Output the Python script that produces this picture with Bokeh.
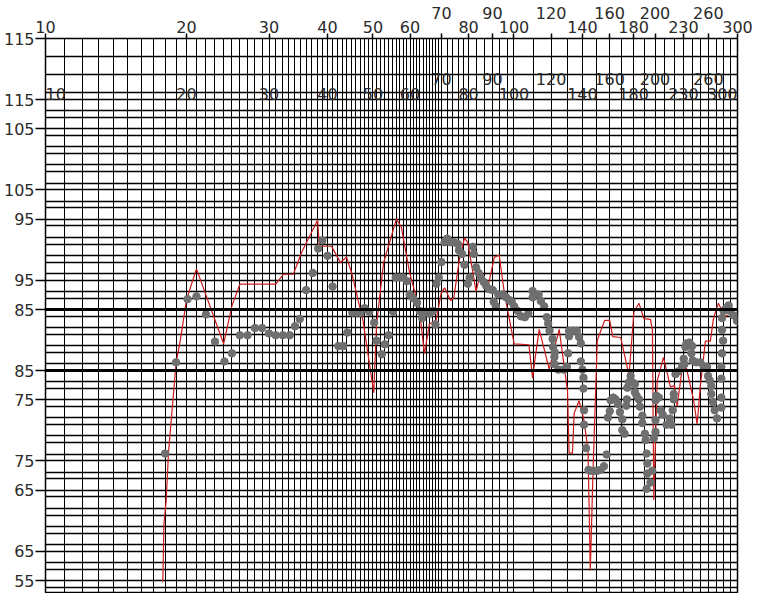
from bokeh.plotting import figure
from bokeh.models import Range1d, FixedTicker, Grid, Span, Label
from bokeh.embed import file_html
from bokeh.resources import INLINE

# ---------------- data ----------------
# tick labels (frequency axis, staggered in two rows) and level axis
x_labels_low = [10, 20, 30, 40, 50, 60, 80, 100, 140, 180, 230, 300]
x_labels_high = [70, 90, 120, 160, 200, 260]
y_labels = [115, 105, 95, 85, 75, 65, 55]
grid_x = (list(range(10, 70)) + list(range(70, 80, 2))
          + [80 + 10 * i / 3 for i in range(6)] + list(range(100, 301, 10)))
grid_y = list(range(55, 116, 2))
ref_level = 85

# red response curve (chart A)
red_f = [17.8, 17.9, 18.1, 18.3, 19.0, 19.4, 20.0, 21.0, 24.0, 25.0,
         26.0, 31.0, 32.2, 33.8, 35.2, 38.1, 38.4, 40.8, 42.6, 43.9,
         45.0, 47.6, 50.2, 50.9, 52.7, 56.1, 57.5, 59.9, 61.9, 63.1,
         64.4, 66.0, 68.2, 69.9, 71.1, 73.2, 74.4, 76.5, 78.4, 79.7,
         83.0, 85.1, 87.9, 90.8, 93.0, 95.4, 97.7, 100.1, 107.6, 109.6,
         110.8, 113.2, 118.9, 124.9, 130.1, 131.1, 133.3, 134.4, 137.7, 141.1,
         143.9, 145.5, 147.5, 150.6, 156.2, 160.1, 162.4, 169.0, 176.0, 180.3,
         184.8, 189.3, 195.6, 197.5, 198.8, 202.2, 208.5, 215.8, 220.1, 223.0,
         228.5, 233.4, 241.9, 246.0, 250.0, 256.2, 262.5, 266.8, 273.1, 277.8,
         281.2, 286.3]
red_v = [54.8, 61.3, 63.9, 69.1, 79.1, 81.6, 86.1, 89.5, 81.2, 85.4,
         87.8, 87.8, 88.9, 88.9, 91.3, 94.9, 92.0, 92.0, 90.2, 90.8,
         89.1, 83.8, 75.8, 83.4, 90.2, 95.0, 94.1, 89.0, 86.3, 84.1,
         80.1, 83.4, 83.8, 86.8, 87.4, 86.0, 86.3, 90.6, 92.9, 92.4,
         87.0, 89.3, 87.4, 90.8, 91.0, 86.8, 84.0, 81.2, 81.1, 77.4,
         79.4, 82.8, 78.4, 82.8, 76.0, 69.1, 69.1, 73.5, 74.9, 72.7,
         69.4, 56.1, 67.2, 81.6, 83.8, 83.8, 82.0, 81.9, 77.7, 84.7,
         85.7, 84.0, 83.9, 82.7, 63.9, 77.1, 79.7, 76.4, 76.6, 74.3,
         78.4, 78.5, 74.9, 72.3, 76.6, 81.5, 81.5, 84.1, 85.7, 84.9,
         84.2, 84.4]

# grey measured points (chart B)
dot_f = [18.0, 19.0, 20.1, 21.0, 22.0, 23.0, 24.1, 25.0, 26.0, 27.0,
         28.0, 29.0, 30.0, 31.0, 32.1, 33.2, 34.1, 34.9, 36.0, 37.2,
         38.2, 39.0, 40.0, 41.0, 42.2, 43.2, 44.1, 45.2, 46.1, 47.0,
         48.0, 49.1, 50.3, 50.9, 52.2, 53.0, 54.0, 55.2, 55.9, 57.0,
         58.0, 59.1, 59.9, 60.9, 62.1, 62.9, 63.7, 64.8, 66.0, 67.1,
         68.0, 68.3, 69.1, 70.0, 71.1, 72.0, 73.2, 74.6, 75.9, 76.3,
         77.5, 78.4, 79.7, 80.4, 81.7, 82.1, 83.0, 84.0, 85.1, 86.2,
         87.2, 88.6, 90.1, 90.5, 91.5, 92.6, 94.6, 96.2, 97.7, 98.9,
         100.1, 101.8, 103.5, 105.5, 107.3, 109.6, 109.6, 112.9, 114.1, 116.0,
         117.5, 118.3, 119.1, 120.9, 121.2, 122.2, 122.0, 122.0, 124.3, 127.6,
         129.7, 130.5, 131.1, 131.1, 134.0, 136.2, 137.7, 138.9, 138.9, 140.0,
         140.7, 140.7, 141.1, 141.1, 142.5, 144.2, 145.8, 148.2, 150.7, 153.1,
         155.6, 157.7, 158.7, 160.1, 160.9, 163.0, 164.8, 166.7, 168.3, 170.3,
         170.3, 172.2, 173.7, 174.2, 174.6, 176.0, 177.4, 178.9, 181.2, 181.2,
         182.7, 184.8, 185.7, 187.9, 187.9, 190.3, 191.0, 191.9, 192.6, 192.6,
         191.9, 195.6, 197.3, 198.8, 200.5, 200.5, 200.5, 201.2, 203.8, 205.5,
         207.8, 211.6, 215.1, 216.9, 218.2, 219.3, 219.3, 221.2, 224.1, 228.5,
         230.3, 231.1, 232.3, 233.4, 236.9, 240.0, 239.2, 240.7, 244.8, 250.0,
         254.1, 258.3, 259.6, 261.7, 263.8, 263.8, 266.0, 268.1, 271.3, 277.1,
         277.1, 277.1, 277.1, 278.0, 279.4, 278.0, 278.0, 280.2, 283.6, 287.2,
         289.6, 294.3, 299.2]
dot_v = [75.8, 85.9, 92.9, 93.2, 91.2, 88.2, 86.0, 86.9, 88.9, 88.9,
         89.7, 89.7, 89.1, 88.9, 88.9, 88.9, 89.9, 90.7, 93.9, 95.8,
         98.5, 99.4, 97.7, 94.3, 87.7, 87.7, 89.2, 91.4, 91.4, 91.4,
         91.9, 91.5, 90.3, 88.3, 86.8, 87.9, 88.9, 91.5, 95.3, 95.3,
         95.3, 94.9, 93.4, 93.0, 92.5, 91.6, 90.8, 91.5, 91.3, 91.6,
         90.1, 94.6, 95.3, 97.0, 99.2, 99.6, 99.2, 99.2, 99.0, 98.3,
         97.9, 96.7, 94.6, 95.3, 98.7, 97.9, 96.4, 95.8, 95.2, 94.8,
         94.4, 94.0, 93.9, 92.6, 92.1, 93.4, 93.4, 93.1, 92.8, 92.6,
         92.1, 91.6, 91.0, 90.9, 91.3, 93.8, 93.1, 93.4, 92.7, 92.1,
         90.9, 90.2, 89.4, 88.5, 87.6, 87.0, 86.5, 85.7, 85.1, 85.1,
         85.4, 86.9, 88.8, 89.4, 89.4, 89.4, 88.7, 88.0, 86.0, 85.1,
         84.2, 83.0, 80.6, 79.0, 76.4, 74.0, 73.9, 73.9, 73.9, 74.0,
         74.4, 75.7, 79.8, 80.5, 81.7, 82.0, 81.8, 81.3, 80.4, 79.6,
         78.4, 78.0, 81.1, 81.8, 83.1, 83.7, 84.4, 83.7, 83.5, 82.6,
         82.2, 81.8, 81.0, 80.0, 79.2, 78.0, 77.3, 75.8, 74.7, 73.6,
         71.9, 72.6, 73.9, 77.5, 78.2, 79.5, 81.7, 82.2, 82.0, 80.6,
         80.1, 79.0, 79.7, 79.0, 80.6, 81.8, 82.4, 84.6, 84.9, 85.5,
         86.3, 85.7, 87.6, 88.0, 88.1, 87.7, 86.9, 86.1, 85.9, 85.9,
         85.4, 85.4, 84.4, 83.9, 83.3, 82.4, 81.5, 80.6, 79.7, 80.9,
         82.0, 84.1, 85.4, 86.9, 88.3, 89.5, 90.8, 91.6, 91.9, 92.2,
         91.6, 91.1, 90.5]

# ---------------- layout constants ----------------
W, H = 760, 593
LEFT, TOP, RIGHT = 43, 38, 23
PX_PER_UNIT = 542 / 60.0            # 10 dB -> ~90 px
A_BOTTOM = 55 - 13 / PX_PER_UNIT
SHIFT = 61 / PX_PER_UNIT            # second chart drawn 61 px lower
FONT = "DejaVu Sans"
FONT_SIZE = "16px"
TXT = "#2b2b2b"

p = figure(width=W, height=H, x_axis_type="log",
           x_range=Range1d(10, 300), y_range=Range1d(A_BOTTOM, 115),
           x_axis_location="above", y_axis_location="left",
           output_backend="svg", toolbar_location=None, title=None,
           min_border_left=LEFT, min_border_top=TOP,
           min_border_right=RIGHT, min_border_bottom=0)
p.extra_y_ranges = {"B": Range1d(A_BOTTOM + SHIFT, 115 + SHIFT)}
p.background_fill_color = "white"
p.border_fill_color = "white"
p.outline_line_color = "black"
p.outline_line_width = 1.5

# top axis: staggered labels (upper row lifted by an extra, empty line)
xa = p.xaxis[0]
xa.ticker = FixedTicker(ticks=x_labels_low + x_labels_high)
xa.major_label_overrides = {**{v: str(v) for v in x_labels_low},
                            **{v: f"{v}\n" for v in x_labels_high}}
xa.major_label_text_line_height = 0.72
xa.major_tick_out = 5
xa.major_label_standoff = -3

# left axis: one axis carrying the labels of both stacked level scales
ya = p.yaxis[0]
b_pos = [v - SHIFT for v in y_labels]
ya.ticker = FixedTicker(ticks=y_labels + b_pos)
ya.major_label_overrides = {**{v: str(v) for v in y_labels},
                            **{bp: str(v) for bp, v in zip(b_pos, y_labels)}}
ya.major_tick_out = 10
ya.major_label_standoff = 1

for ax in (xa, ya):
    ax.major_label_text_font = FONT
    ax.major_label_text_font_size = FONT_SIZE
    ax.major_label_text_color = TXT
    ax.major_tick_in = 0
    ax.minor_tick_out = 0
    ax.minor_tick_in = 0
    ax.axis_line_color = None
    ax.major_tick_line_color = "black"
    ax.major_tick_line_width = 1.5

# grids
p.xgrid.ticker = FixedTicker(ticks=grid_x)
p.xgrid.grid_line_color = "black"
p.xgrid.grid_line_width = 1.0
p.ygrid.ticker = FixedTicker(ticks=grid_y)
p.ygrid.grid_line_color = "black"
p.ygrid.grid_line_width = 1.5
p.add_layout(Grid(dimension=1, ticker=FixedTicker(ticks=grid_y), y_range_name="B",
                  grid_line_color="black", grid_line_width=1.5))

p.add_layout(Span(location=ref_level, dimension="width", line_color="black", line_width=3))
p.add_layout(Span(location=ref_level, dimension="width", y_range_name="B",
                  line_color="black", line_width=3))

# data
p.line(red_f, red_v, line_color="#cc1a1a", line_width=1.2)
p.scatter(dot_f, dot_v, y_range_name="B", size=7.5, fill_color="#6f6f6f",
          line_color="#6f6f6f")

# frequency labels of the lower chart (B), drawn inside the upper chart's frame
def add_label(x, dy, align="center"):
    p.add_layout(Label(x=x, y=115, y_range_name="B", y_offset=dy, x_offset=0,
                       text=str(x), text_align=align, text_baseline="alphabetic",
                       text_font=FONT, text_font_size=FONT_SIZE, text_color=TXT))

for v in x_labels_high:
    add_label(v, 21)
for v in x_labels_low:
    edge = "left" if v == x_labels_low[0] else "right" if v == x_labels_low[-1] else "center"
    add_label(v, 6, edge)

open("out.html", "w").write(file_html(p, INLINE, "chart"))
